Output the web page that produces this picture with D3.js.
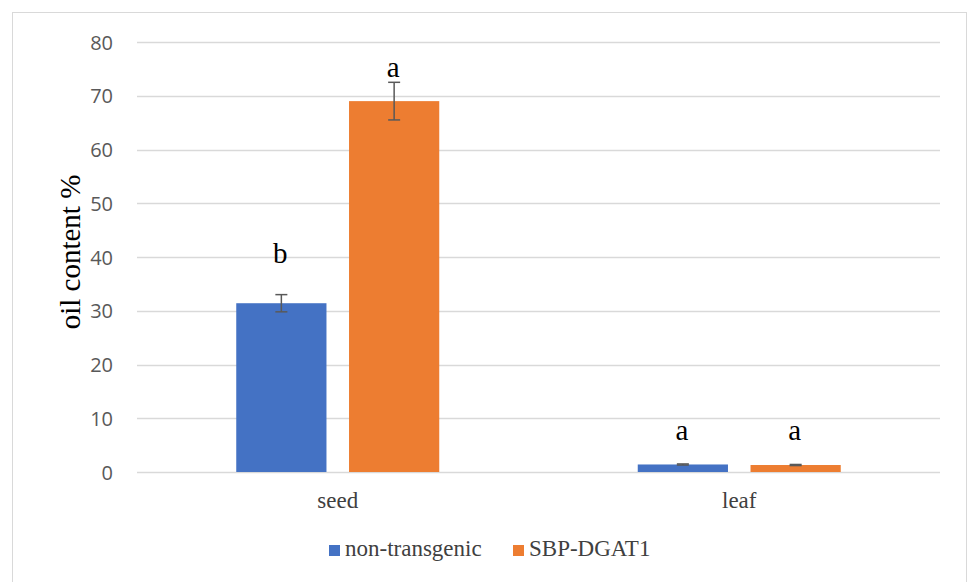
<!DOCTYPE html>
<html><head><meta charset="utf-8">
<script src="https://cdn.jsdelivr.net/npm/d3@7"></script>
<style>body{margin:0;background:#fff}svg{display:block}</style>
</head><body><svg id="c" width="969" height="582"></svg>
<script>
const categories = ["seed", "leaf"];
const seriesNames = ["non-transgenic", "SBP-DGAT1"];
const nonTransgenic = [31.4, 1.4];
const sbpDgat1 = [69.0, 1.3];
const errNonTransgenic = [1.6, 0.1];
const errSbpDgat1 = [3.5, 0.1];
const lettersNonTransgenic = ["b", "a"];
const lettersSbpDgat1 = ["a", "a"];
const yTicks = [0, 10, 20, 30, 40, 50, 60, 70, 80];
const colors = ["#4472C4", "#ED7D31"];

const svg = d3.select("#c");
svg.append("rect").attr("x", 12.5).attr("y", 12.5).attr("width", 954).attr("height", 590)
  .attr("fill", "#fff").attr("stroke", "#d9d9d9");

const pLeft = 137, pRight = 940, pTop = 42, pBottom = 472;
const y = d3.scaleLinear().domain([0, 80]).range([pBottom, pTop]);
const x0 = d3.scaleBand().domain(categories).range([pLeft, pRight]).paddingInner(0).paddingOuter(0);
const x1 = d3.scaleBand().domain(seriesNames).range([0, 203]).paddingInner(0.2);
const serif = "'Liberation Serif', 'Times New Roman', serif";

// grid
svg.append("g").selectAll("line").data(yTicks).join("line")
  .attr("x1", pLeft).attr("x2", pRight)
  .attr("y1", d => Math.round(y(d)) + 0.5).attr("y2", d => Math.round(y(d)) + 0.5)
  .attr("stroke", "#d9d9d9").attr("stroke-width", 1.3);

// y axis labels
const yAxis = d3.axisLeft(y).tickValues(yTicks).tickSize(0).tickPadding(0);
const gy = svg.append("g").attr("transform", `translate(${pLeft - 24},0)`).call(yAxis);
gy.select(".domain").remove();
gy.selectAll("text").attr("font-family", "'Open Sans', 'Liberation Sans', sans-serif")
  .attr("font-size", 20).attr("fill", "#595959").attr("dy", "0.35em");

// x axis labels
const xAxis = d3.axisBottom(x0).tickSize(0).tickPadding(0);
const gx = svg.append("g").attr("transform", `translate(0,${pBottom + 36})`).call(xAxis);
gx.select(".domain").remove();
gx.selectAll("text").attr("font-family", serif)
  .attr("font-size", 23).attr("fill", "#404040").attr("dy", "0");

const series = [
  {name: seriesNames[0], vals: nonTransgenic, err: errNonTransgenic, letters: lettersNonTransgenic, color: colors[0]},
  {name: seriesNames[1], vals: sbpDgat1, err: errSbpDgat1, letters: lettersSbpDgat1, color: colors[1]}
];
// pixel gap between error-bar top and letter baseline (annotation layout)
const letterGap = [[32, 24], [5, 24]];

const offset = (x0.bandwidth() - 203) / 2;
series.forEach((s, si) => {
  const g = svg.append("g");
  categories.forEach((c, i) => {
    const bx = x0(c) + offset + x1(s.name);
    const bw = x1.bandwidth();
    g.append("rect").attr("x", bx).attr("y", y(s.vals[i])).attr("width", bw)
      .attr("height", y(0) - y(s.vals[i])).attr("fill", s.color);
    const cx = bx + bw / 2;
    const hi = y(s.vals[i] + s.err[i]), lo = y(s.vals[i] - s.err[i]);
    g.append("line").attr("x1", cx).attr("x2", cx).attr("y1", hi).attr("y2", lo)
      .attr("stroke", "#595959").attr("stroke-width", 1.5);
    [hi, lo].forEach(yy => g.append("line").attr("x1", cx - 6).attr("x2", cx + 6)
      .attr("y1", yy).attr("y2", yy).attr("stroke", "#595959").attr("stroke-width", 1.5));
    g.append("text").attr("x", cx - 1).attr("y", hi - letterGap[si][i])
      .attr("text-anchor", "middle").attr("font-family", serif)
      .attr("font-size", 29).attr("fill", "#000").text(s.letters[i]);
  });
});

// y title
svg.append("text").attr("transform", "translate(80,252) rotate(-90)")
  .attr("text-anchor", "middle").attr("font-family", serif)
  .attr("font-size", 29).attr("fill", "#000").text("oil content %");

// legend
const legendX = [329, 513];
series.forEach((s, i) => {
  svg.append("rect").attr("x", legendX[i]).attr("y", 545).attr("width", 11).attr("height", 11).attr("fill", s.color);
  svg.append("text").attr("x", legendX[i] + 16).attr("y", 556)
    .attr("font-family", serif)
    .attr("font-size", 23).attr("fill", "#404040").text(s.name);
});
</script></body></html>
